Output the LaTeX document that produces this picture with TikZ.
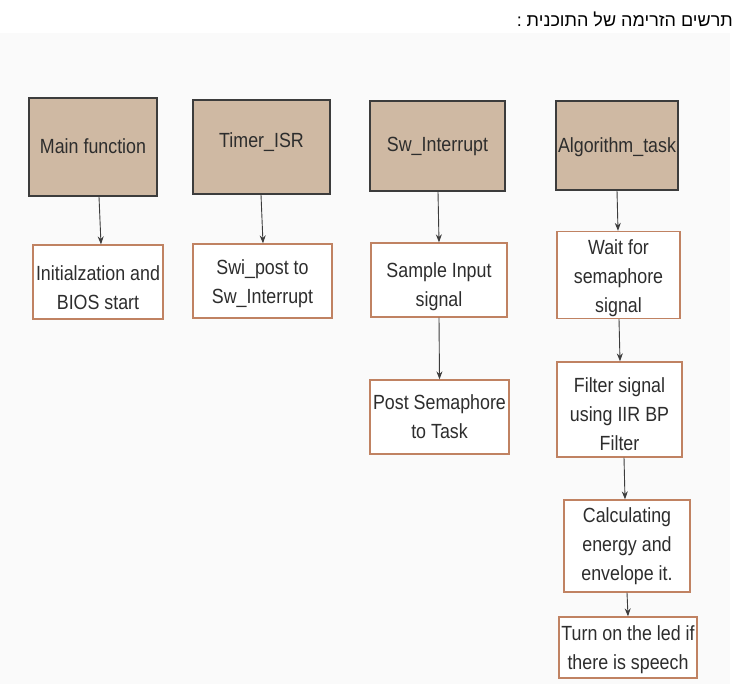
\documentclass[tikz,border=0pt]{standalone}
\usepackage{fontspec}
\setmainfont{Liberation Sans}[FakeStretch=0.87]
\newfontfamily\hebfont[Script=Hebrew]{Liberation Sans}
\TeXXeTstate=1
\usetikzlibrary{arrows.meta}
\definecolor{topfill}{RGB}{207,185,163}
\definecolor{topdraw}{RGB}{60,60,60}
\definecolor{botdraw}{RGB}{192,130,98}
\definecolor{txt}{RGB}{45,45,45}
\definecolor{bg}{RGB}{250,250,250}
\newcommand{\shifttext}[2]{\raisebox{#1}[\height][\depth]{\begin{tabular}{@{}c@{}}#2\end{tabular}}}
\tikzset{
  topbox/.style={draw=topdraw, fill=topfill, line width=1.4pt, inner sep=0pt, align=center, text=txt, font=\fontsize{20.5}{29}\selectfont},
  botbox/.style={draw=botdraw, fill=white, line width=1.3pt, inner sep=0pt, align=center, text=txt, font=\fontsize{20.5}{29}\selectfont},
  arr/.style={draw=topdraw, line width=0.9pt, -{Stealth[length=8pt,width=6pt]}}
}
\begin{document}
\begin{tikzpicture}[x=1pt,y=-1pt]
\useasboundingbox (0,0) rectangle (751,684);
\fill[white] (0,0) rectangle (751,684);
\fill[bg] (0,33) rectangle (730,684);
\node[anchor=east, inner sep=0pt, font=\hebfont\fontsize{18}{21}\selectfont] (title) at (733,19) {\beginR תרשים הזרימה של התוכנית :\endR};

\node[topbox, minimum width=128, minimum height=98] (main) at (93,147) {\shifttext{-1pt}{Main function}};
\node[topbox, minimum width=137, minimum height=94] (timer) at (261.5,147) {\shifttext{5pt}{Timer\_ISR}};
\node[topbox, minimum width=135, minimum height=90] (sw) at (437.5,146) {Sw\_Interrupt};
\node[topbox, minimum width=122, minimum height=89] (alg) at (617,145.5) {\shifttext{-1pt}{Algorithm\_task}};

\node[botbox, minimum width=130, minimum height=74] (init) at (98,282) {\shifttext{-7.5pt}{Initialzation and\\BIOS start}};
\node[botbox, minimum width=139, minimum height=74] (swi) at (262.5,281) {\shifttext{-2pt}{Swi\_post to\\Sw\_Interrupt}};
\node[botbox, minimum width=136, minimum height=74] (sample) at (439,280) {\shifttext{-6.5pt}{Sample Input\\signal}};
\node[botbox, minimum width=123, minimum height=82] (wait) at (618.5,275) {\shifttext{-2.5pt}{Wait for\\semaphore\\signal}};
\node[botbox, minimum width=139, minimum height=74] (post) at (439.5,417) {Post Semaphore\\to Task};
\node[botbox, minimum width=125, minimum height=95] (filter) at (619.5,409.5) {\shifttext{-6.5pt}{Filter signal\\using IIR BP\\Filter}};
\node[botbox, minimum width=126, minimum height=92] (calc) at (627,546) {Calculating\\energy and\\envelope it.};
\node[botbox, minimum width=138, minimum height=61] (turn) at (628,647.5) {\shifttext{-1.5pt}{Turn on the led if\\there is speech}};

\draw[arr] ([xshift=6pt]main.south) -- ([xshift=3pt]init.north);
\draw[arr] ([xshift=-0.5pt]timer.south) -- ([xshift=0.5pt]swi.north);
\draw[arr] ([xshift=0.5pt]sw.south) -- ([xshift=0pt]sample.north);
\draw[arr] ([xshift=0pt]alg.south) -- ([xshift=-0.5pt]wait.north);
\draw[arr] (sample.south) -- (post.north);
\draw[arr] ([xshift=0.5pt]wait.south) -- ([xshift=0.5pt]filter.north);
\draw[arr] ([xshift=4.5pt]filter.south) -- ([xshift=-2pt]calc.north);
\draw[arr] (calc.south) -- (turn.north);
\end{tikzpicture}
\end{document}
